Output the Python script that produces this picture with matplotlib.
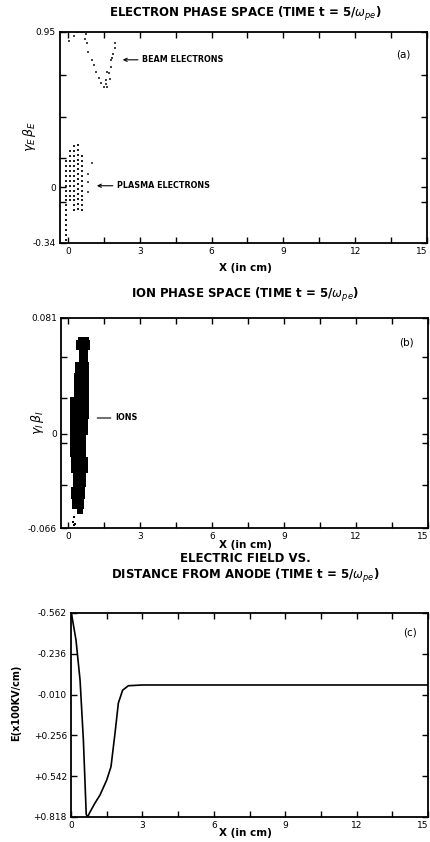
import matplotlib
matplotlib.use('Agg')
import matplotlib.pyplot as plt
import numpy as np

# (a) electron phase space
beam_x = [0.06, 0.25, 0.39, 0.57, 0.75, 0.71, 0.80, 0.85, 0.99, 1.10, 1.19, 1.29, 1.40, 1.50,
          1.64, 1.61, 1.65, 1.72, 1.79, 1.82, 1.85, 1.89, 1.96, 1.96, 1.75, 1.58]
beam_y = [0.897, 0.925, 0.948, 0.948, 0.940, 0.910, 0.880, 0.830, 0.779, 0.748, 0.707, 0.667, 0.636, 0.612,
          0.612, 0.657, 0.707, 0.700, 0.738, 0.779, 0.790, 0.816, 0.850, 0.880, 0.660, 0.630]

plasma_x = [-0.08, 0.08, 0.25, 0.42, 0.60]
plasma_y = [
    [0.16, 0.13, 0.10, 0.07, 0.04, 0.01, -0.02, -0.05, -0.08, -0.11, -0.14, -0.17, -0.20,
     -0.23, -0.26, -0.29, -0.32],
    [0.22, 0.19, 0.16, 0.13, 0.10, 0.07, 0.04, 0.01, -0.02, -0.05, -0.08],
    [0.25, 0.22, 0.19, 0.16, 0.13, 0.10, 0.07, 0.04, 0.01, -0.02, -0.05, -0.08, -0.11, -0.14],
    [0.26, 0.23, 0.20, 0.17, 0.14, 0.11, 0.08, 0.05, 0.02, -0.01, -0.04, -0.07, -0.10, -0.13],
    [0.19, 0.16, 0.13, 0.10, 0.07, 0.04, 0.01, -0.02, -0.05, -0.08, -0.11, -0.14],
]
stray_x = [0.85, 0.85, 0.85, 0.99]
stray_y = [0.08, 0.03, -0.03, 0.15]

# (b) ion phase space: left/right edge of the dense blob at each level
ion_y = [0.068, 0.063, 0.054, 0.047, 0.038, 0.014, 0.007, -0.009, -0.023, -0.032, -0.042, -0.049, -0.056]
ion_xl = [0.40, 0.33, 0.43, 0.29, 0.25, 0.08, 0.08, 0.08, 0.11, 0.20, 0.11, 0.15, 0.36]
ion_xr = [0.85, 0.89, 0.81, 0.85, 0.85, 0.85, 0.81, 0.75, 0.81, 0.75, 0.71, 0.64, 0.61]
ion_sx = [0.25, 0.20, 0.25, 0.30]
ion_sy = [-0.058, -0.062, -0.064, -0.063]

# (c) electric field
field_x = [0.0, 0.03, 0.21, 0.38, 0.52, 0.64, 0.70, 0.78, 1.01, 1.22, 1.50, 1.68, 1.85, 1.99,
           2.17, 2.41, 3.0, 15.0]
field_y = [-0.562, -0.548, -0.379, -0.109, 0.297, 0.80, 0.818, 0.79, 0.723, 0.669, 0.568, 0.478,
           0.25, 0.047, -0.04, -0.07, -0.075, -0.075]
field_labels = ['-0.562', '-0.236', '-0.010', '+0.256', '+0.542', '+0.818']

xt = [0, 3, 6, 9, 12, 15]

W, H = 430, 842
fig = plt.figure(figsize=(W / 100, H / 100), dpi=100)


def box(l, t, r, b):
    return [l / W, 1 - b / H, (r - l) / W, (b - t) / H]


def style(ax):
    ax.set_xticks(xt)
    ax.set_xticklabels([str(v) for v in xt])
    ax.get_xticklabels()[-1].set_horizontalalignment('right')
    ax.set_xticks([1.5, 4.5, 7.5, 10.5, 13.5], minor=True)
    ax.tick_params(which='both', direction='in', top=True, right=True, length=4, width=1,
                   labelsize=6.5, pad=3)
    for s in ax.spines.values():
        s.set_linewidth(1.3)


tfont = dict(fontsize=8.5, fontweight='bold', ha='center', va='center')
lfont = dict(fontsize=7.5, fontweight='bold', ha='center', va='center')

# panel a
ax1 = fig.add_axes(box(60, 32, 427, 243))
ax1.scatter(beam_x, beam_y, s=3, marker='s', color='#444444', linewidths=0)
for xc, ys in zip(plasma_x, plasma_y):
    ax1.scatter([xc] * len(ys), ys, s=3.5, marker='s', color='#222222', linewidths=0)
ax1.scatter(stray_x, stray_y, s=3, marker='s', color='#555555', linewidths=0)
ax1.set_xlim(-0.33, 15)
ax1.set_ylim(-0.34, 0.95)
ax1.set_yticks([0.95, 0.69, 0.43, 0.18, 0, -0.09, -0.34])
ax1.set_yticklabels(['0.95', '', '', '', '0', '', '-0.34'])
style(ax1)
ax1.annotate('BEAM ELECTRONS', xy=(2.29, 0.78), xytext=(3.1, 0.78), fontsize=5.8, fontweight='bold',
             va='center', arrowprops=dict(arrowstyle='->', lw=0.8, color='black', shrinkA=1, shrinkB=0))
ax1.annotate('PLASMA ELECTRONS', xy=(1.21, 0.01), xytext=(2.05, 0.01), fontsize=5.8, fontweight='bold',
             va='center', arrowprops=dict(arrowstyle='->', lw=0.8, color='black', shrinkA=1, shrinkB=0))
ax1.text(13.7, 0.81, '(a)', fontsize=7.5, va='center')
fig.text(245 / W, 1 - 14 / H, r'ELECTRON PHASE SPACE (TIME t = 5/$\omega_{pe}$)', **tfont)
fig.text(245 / W, 1 - 268 / H, 'X (in cm)', **lfont)
fig.text(30 / W, 1 - 137 / H, r'$\gamma_E\,\beta_E$', fontsize=9, rotation=90, ha='center', va='center')

# panel b
ax2 = fig.add_axes(box(61, 318, 428, 528))
ax2.fill_betweenx(ion_y, ion_xl, ion_xr, step='mid', color='black', lw=0)
ax2.scatter(ion_sx, ion_sy, s=3, marker='s', color='black', linewidths=0)
ax2.set_xlim(-0.3, 15)
ax2.set_ylim(-0.066, 0.081)
ax2.set_yticks([0.081, 0.054, 0.025, 0, -0.0065, -0.036, -0.066])
ax2.set_yticklabels(['0.081', '', '', '0', '', '', '-0.066'])
style(ax2)
ax2.annotate('IONS', xy=(1.21, 0.011), xytext=(1.95, 0.011), fontsize=5.8, fontweight='bold',
             va='center', arrowprops=dict(arrowstyle='-', lw=0.8, color='black', shrinkA=1, shrinkB=0))
ax2.text(13.8, 0.064, '(b)', fontsize=7.5, va='center')
fig.text(245 / W, 1 - 295 / H, r'ION PHASE SPACE (TIME t = 5/$\omega_{pe}$)', **tfont)
fig.text(245 / W, 1 - 545 / H, 'X (in cm)', **lfont)
fig.text(37 / W, 1 - 423 / H, r'$\gamma_I\,\beta_I$', fontsize=9, rotation=90, ha='center', va='center')

# panel c
ax3 = fig.add_axes(box(71, 613, 428, 817))
ax3.plot(field_x, field_y, color='black', lw=1.2)
ax3.set_xlim(0, 15)
ax3.set_ylim(0.818, -0.562)
ax3.set_yticks(np.linspace(-0.562, 0.818, len(field_labels)))
ax3.set_yticklabels(field_labels)
style(ax3)
ax3.text(13.95, -0.43, '(c)', fontsize=7.5, va='center')
fig.text(245 / W, 1 - 559 / H, 'ELECTRIC FIELD VS.', **tfont)
fig.text(245 / W, 1 - 576 / H, r'DISTANCE FROM ANODE (TIME t = 5/$\omega_{pe}$)', **tfont)
fig.text(245 / W, 1 - 833 / H, 'X (in cm)', **lfont)
fig.text(16 / W, 1 - 703 / H, 'E(x100KV/cm)', fontsize=7, fontweight='bold', rotation=90,
         ha='center', va='center')

fig.savefig('out.png', dpi=100)
